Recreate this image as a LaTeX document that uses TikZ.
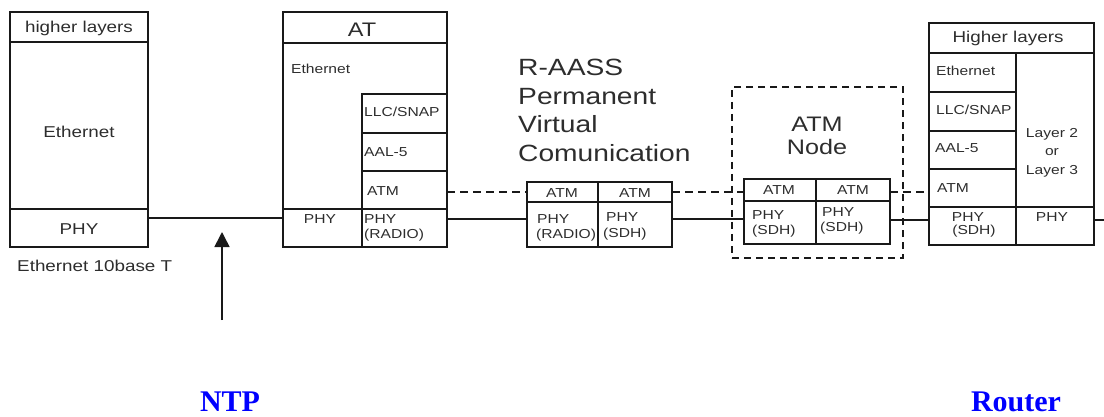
\documentclass[tikz,border=0pt]{standalone}
\usepackage{fontspec}
\setmainfont{Liberation Sans}[FakeStretch=1.2]
\newfontfamily\tnrbold{Liberation Serif}[BoldFont={Liberation Serif Bold}]
\usetikzlibrary{arrows.meta}
\definecolor{txt}{RGB}{45,45,45}
\definecolor{ln}{RGB}{25,25,25}
\definecolor{lblue}{RGB}{0,0,255}
\newcommand\cellbox[6][]{\node[cellbox,#1,minimum width={(#5)-(#3)},minimum height={(#6)-(#4)}] (#2) at ({((#3)+(#5))/2},{((#4)+(#6))/2}) {};}
\begin{document}
\begin{tikzpicture}[x=1pt,y=-1pt,
  cellbox/.style={draw=ln,line width=1.9pt,inner sep=0pt,outer sep=0pt},
  dashbox/.style={dash pattern=on 7pt off 5pt,line width=1.8pt},
  wire/.style={draw=ln,line width=1.6pt},
  dwire/.style={draw=ln,line width=1.8pt,dash pattern=on 8pt off 5pt},
  lab/.style={inner sep=0pt,text=txt,font=\fontsize{13}{15}\selectfont},
  big/.style={lab,font=\fontsize{15.7}{18}\selectfont},
  atf/.style={lab,font=\fontsize{19.6}{22}\selectfont},
  titlef/.style={lab,font=\fontsize{23.5}{28}\selectfont},
  nodef/.style={lab,font=\fontsize{21}{24}\selectfont},
  blu/.style={inner sep=0pt,text=lblue,font=\tnrbold\bfseries\fontsize{30}{32}\selectfont}]
\useasboundingbox (0,0) rectangle (1104,417);
% Box 1 (Ethernet)
\cellbox{eo}{10}{12}{148}{247}
\cellbox{eh}{10}{12}{148}{42}
\cellbox{ep}{10}{209}{148}{247}
% AT
\cellbox{ato}{283}{12}{447}{247}
\cellbox{ath}{283}{12}{447}{43}
\cellbox{atllc}{362}{94}{447}{133}
\cellbox{ataal}{362}{133}{447}{171}
\cellbox{atatm}{362}{171}{447}{209}
\cellbox{atpl}{283}{209}{362}{247}
\cellbox{atpr}{362}{209}{447}{247}
% R-AASS middle
\cellbox{ma1}{527}{182}{598}{202}
\cellbox{ma2}{598}{182}{672}{202}
\cellbox{mp1}{527}{202}{598}{247}
\cellbox{mp2}{598}{202}{672}{247}
% ATM node
\cellbox[dashbox]{nb}{732}{87}{903}{258}
\cellbox{na1}{744}{179}{816}{201}
\cellbox{na2}{816}{179}{890}{201}
\cellbox{np1}{744}{201}{816}{244}
\cellbox{np2}{816}{201}{890}{244}
% Router
\cellbox{ro}{929}{23}{1094}{245}
\cellbox{rh}{929}{23}{1094}{53}
\cellbox{reth}{929}{53}{1016}{92}
\cellbox{rllc}{929}{92}{1016}{131}
\cellbox{raal}{929}{131}{1016}{169}
\cellbox{ratm}{929}{169}{1016}{207}
\cellbox{rl23}{1016}{53}{1094}{207}
\cellbox{rp1}{929}{207}{1016}{245}
\cellbox{rp2}{1016}{207}{1094}{245}
% connectors
\draw[wire] ([yshift=10pt]ep.east) -- ([yshift=10pt]ep.east -| atpl.west);
\draw[wire] ([yshift=9pt]atpr.east) -- ([yshift=9pt]atpr.east -| mp1.west);
\draw[dwire] (ma1.west -| atatm.east) -- (ma1.west);
\draw[wire] ([yshift=5.5pt]mp2.east) -- ([yshift=5.5pt]mp2.east -| np1.west);
\draw[dwire] (ma2.east) -- (ma2.east -| na1.west);
\draw[wire] ([yshift=2.5pt]np2.east) -- ([yshift=2.5pt]np2.east -| rp1.west);
\draw[dwire] ([yshift=-2pt]na2.east) -- ([yshift=-2pt]na2.east -| ratm.west);
\coordinate (rend) at (1104,220);
\draw[wire] (rend -| rp2.east) -- (rend);
\coordinate (ntptail) at (222,320);
\coordinate (ntptip) at (222,232);
\draw[wire,-{Triangle[width=15pt,length=15pt]}] (ntptail) -- (ntptip);
% texts box 1
\node[big,anchor=base] (t1) at (79,33) {higher layers};
\node[big,anchor=base] (t2) at (79,138) {Ethernet};
\node[big,anchor=base] (t3) at (79,235) {PHY};
\node[big,anchor=base west] (t4) at (17,271) {Ethernet 10base T};
% texts AT
\node[atf,anchor=base] (t5) at (362,37) {AT};
\node[lab,anchor=base west] (t6) at (291,74) {Ethernet};
\node[lab,anchor=base west] (t7) at (364,117) {LLC/SNAP};
\node[lab,anchor=base west] (t8) at (364,157) {AAL-5};
\node[lab,anchor=base west] (t9) at (367,196) {ATM};
\node[lab,anchor=base] (t10) at (320,223) {PHY};
\node[lab,anchor=base west] (t11) at (364,223) {PHY};
\node[lab,anchor=base west] (t12) at (364,239) {(RADIO)};
% title
\node[titlef,anchor=base west] (t13) at (518,76) {R-AASS};
\node[titlef,anchor=base west] (t14) at (518,105) {Permanent};
\node[titlef,anchor=base west] (t15) at (518,133) {Virtual};
\node[titlef,anchor=base west] (t16) at (518,162) {Comunication};
% middle
\node[lab,anchor=base] (t17) at (562,197) {ATM};
\node[lab,anchor=base] (t18) at (635,197) {ATM};
\node[lab,anchor=base west] (t19) at (537,224) {PHY};
\node[lab,anchor=base west] (t20) at (536,238) {(RADIO)};
\node[lab,anchor=base west] (t21) at (606,222) {PHY};
\node[lab,anchor=base west] (t22) at (603,237) {(SDH)};
% ATM node
\node[nodef,anchor=base] (t23) at (817,132) {ATM};
\node[nodef,anchor=base] (t24) at (817,155) {Node};
\node[lab,anchor=base] (t25) at (779,195) {ATM};
\node[lab,anchor=base] (t26) at (853,195) {ATM};
\node[lab,anchor=base west] (t27) at (752,219) {PHY};
\node[lab,anchor=base west] (t28) at (752,235) {(SDH)};
\node[lab,anchor=base west] (t29) at (822,217) {PHY};
\node[lab,anchor=base west] (t30) at (820,232) {(SDH)};
% router
\node[big,anchor=base] (t31) at (1008,43) {Higher layers};
\node[lab,anchor=base west] (t32) at (936,76) {Ethernet};
\node[lab,anchor=base west] (t33) at (936,115) {LLC/SNAP};
\node[lab,anchor=base west] (t34) at (935,153) {AAL-5};
\node[lab,anchor=base west] (t35) at (937,193) {ATM};
\node[lab,anchor=base] (t36) at (1052,138) {Layer 2};
\node[lab,anchor=base] (t37) at (1052,156) {or};
\node[lab,anchor=base] (t38) at (1052,175) {Layer 3};
\node[lab,anchor=base] (t39) at (968,222) {PHY};
\node[lab,anchor=base] (t40) at (974,235) {(SDH)};
\node[lab,anchor=base] (t41) at (1052,222) {PHY};
% bottom labels
\node[blu,anchor=base] (ntp) at (230,411) {NTP};
\node[blu,anchor=base] (router) at (1016,411) {Router};
\end{tikzpicture}
\end{document}
